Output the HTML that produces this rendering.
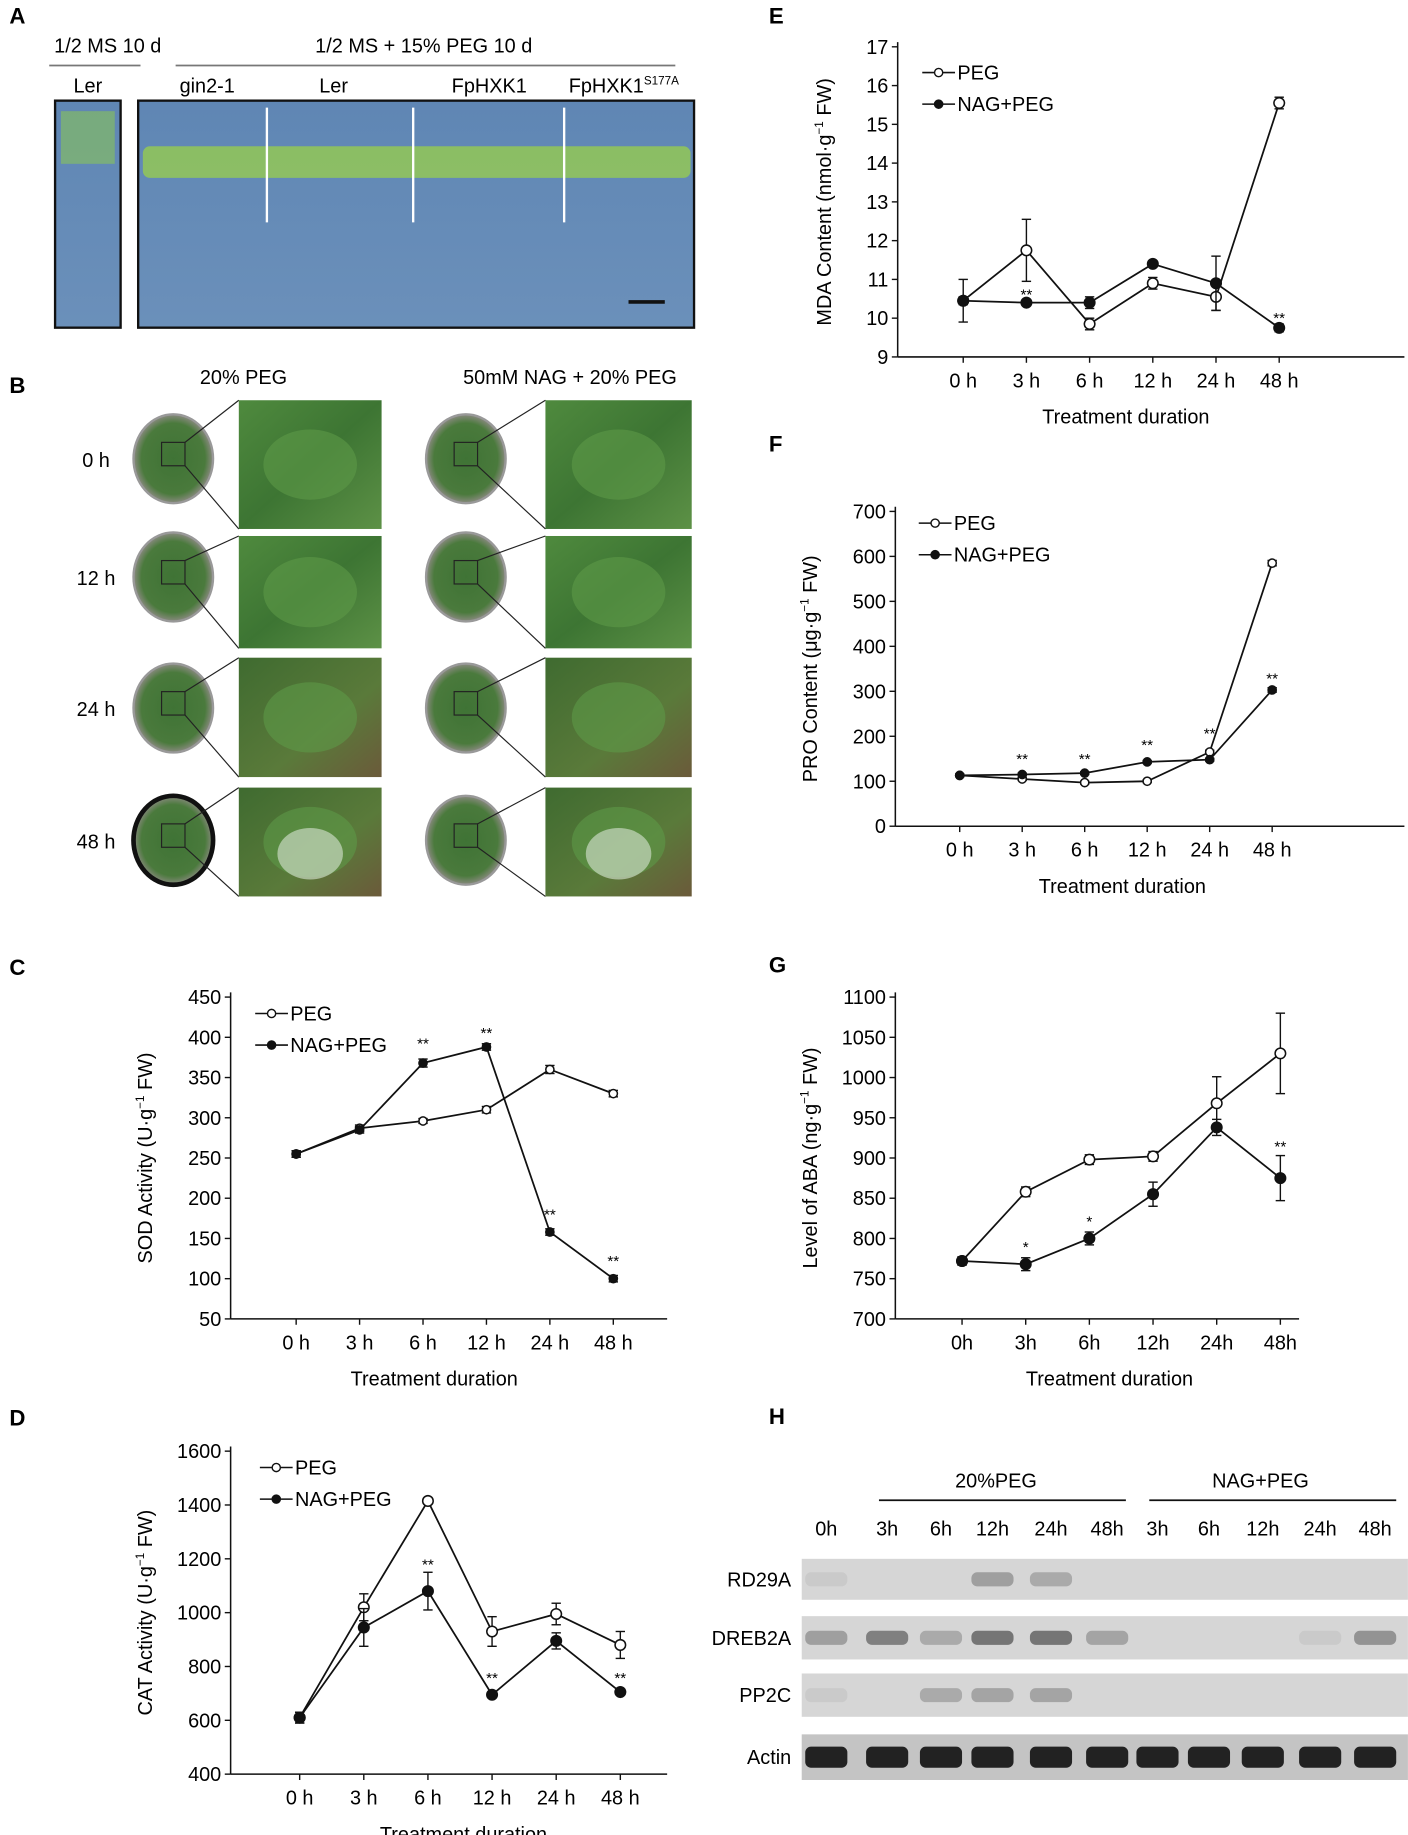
<!DOCTYPE html>
<html><head><meta charset="utf-8"><style>
html,body{margin:0;padding:0;background:#fff;}
svg{display:block;font-family:"Liberation Sans",Arial,sans-serif;}
</style></head><body>
<svg id="fig" xmlns="http://www.w3.org/2000/svg" width="1408" height="1835" viewBox="0 0 1203 1568">
<defs>
<linearGradient id="plate" x1="0" y1="0" x2="0" y2="1"><stop offset="0" stop-color="#5f86b4"/><stop offset="1" stop-color="#6b90ba"/></linearGradient>
<linearGradient id="leaf" x1="0" y1="0" x2="1" y2="1"><stop offset="0" stop-color="#4f8a3e"/><stop offset="0.5" stop-color="#3d7533"/><stop offset="1" stop-color="#5d9146"/></linearGradient>
<linearGradient id="leafd" x1="0" y1="0" x2="1" y2="1"><stop offset="0" stop-color="#3f6b30"/><stop offset="0.6" stop-color="#5a7a3a"/><stop offset="1" stop-color="#6b5a3a"/></linearGradient>
<radialGradient id="dish"><stop offset="0" stop-color="#3f7335"/><stop offset="0.8" stop-color="#4a7a3c"/><stop offset="1" stop-color="#8a8a80"/></radialGradient>
</defs>
<g>
<text x="8" y="20" font-size="19" font-weight="bold">A</text>
<text x="92" y="45" font-size="17" text-anchor="middle">1/2 MS 10 d</text>
<text x="362" y="45" font-size="17" text-anchor="middle">1/2 MS + 15% PEG 10 d</text>
<line x1="42" y1="56" x2="120" y2="56" stroke="#777" stroke-width="1.5"/>
<line x1="150" y1="56" x2="577" y2="56" stroke="#777" stroke-width="1.5"/>
<g font-size="17" text-anchor="middle">
<text x="75" y="79">Ler</text><text x="177" y="79">gin2-1</text><text x="285" y="79">Ler</text><text x="418" y="79">FpHXK1</text><text x="533" y="79">FpHXK1<tspan font-size="10" dy="-7">S177A</tspan></text>
</g>
<rect x="47" y="86" width="56" height="194" fill="url(#plate)" stroke="#111" stroke-width="2"/>
<rect x="118" y="86" width="475" height="194" fill="url(#plate)" stroke="#111" stroke-width="2"/>
<g stroke="#d8e6c8" stroke-width="1" opacity="0.8" id="roots"></g>
<rect x="52" y="95" width="46" height="45" fill="#8cc850" opacity="0.55"/>
<rect x="122" y="125" width="468" height="27" fill="#9ad04a" opacity="0.75" rx="6"/>
<g stroke="#fff" stroke-width="2"><line x1="228" y1="92" x2="228" y2="190"/><line x1="353" y1="92" x2="353" y2="190"/><line x1="482" y1="92" x2="482" y2="190"/></g>
<line x1="537" y1="258" x2="568" y2="258" stroke="#111" stroke-width="3"/>
</g>
<g id="panelB">
<text x="8" y="336" font-size="19" font-weight="bold">B</text>
<text x="208" y="328" font-size="17" text-anchor="middle">20% PEG</text>
<text x="487" y="328" font-size="17" text-anchor="middle">50mM NAG + 20% PEG</text>
</g>
<g id="charts"></g>
<g id="panelH">
<text x="657" y="1217" font-size="19" font-weight="bold">H</text>
<text x="851" y="1271" font-size="17" text-anchor="middle">20%PEG</text>
<text x="1077" y="1271" font-size="17" text-anchor="middle">NAG+PEG</text>
<line x1="751" y1="1282" x2="962" y2="1282" stroke="#111" stroke-width="1.5"/>
<line x1="982" y1="1282" x2="1193" y2="1282" stroke="#111" stroke-width="1.5"/>
</g>
</svg>
<script>
// ---- chart data ----
const categories = ["0 h","3 h","6 h","12 h","24 h","48 h"];
const categoriesG = ["0h","3h","6h","12h","24h","48h"];
const sodPeg = [255,287,296,310,360,330];
const sodNag = [255,285,368,388,158,100];
const sodPegErr = [4,4,3,4,5,4];
const sodNagErr = [4,4,5,4,4,4];
const sodTicks = [50,100,150,200,250,300,350,400,450];
const sodStars = ["","","**","**","**","**"];
const catPeg = [610,1020,1415,930,995,880];
const catNag = [610,945,1080,695,895,705];
const catPegErr = [20,50,8,55,40,50];
const catNagErr = [20,70,70,10,30,8];
const catTicks = [400,600,800,1000,1200,1400,1600];
const catStars = ["","","**","**","","**"];
const mdaPeg = [10.45,11.75,9.85,10.9,10.55,15.55];
const mdaNag = [10.45,10.4,10.4,11.4,10.9,9.75];
const mdaPegErr = [0.55,0.8,0.15,0.15,0.35,0.15];
const mdaNagErr = [0.1,0.05,0.15,0.08,0.7,0.1];
const mdaTicks = [9,10,11,12,13,14,15,16,17];
const mdaStars = ["","**","","","","**"];
const proPeg = [113,105,97,100,165,585];
const proNag = [113,115,118,143,148,303];
const proPegErr = [3,3,3,3,4,6];
const proNagErr = [3,3,3,3,3,5];
const proTicks = [0,100,200,300,400,500,600,700];
const proStars = ["","**","**","**","**","**"];
const abaPeg = [772,858,898,902,968,1030];
const abaNag = [772,768,800,855,938,875];
const abaPegErr = [5,6,6,6,33,50];
const abaNagErr = [5,8,8,15,10,28];
const abaTicks = [700,750,800,850,900,950,1000,1050,1100];
const abaStars = ["","*","*","","","**"];

const NS="http://www.w3.org/2000/svg";
function mk(tag,attrs,parent){const e=document.createElementNS(NS,tag);for(const k in attrs)e.setAttribute(k,attrs[k]);if(parent)parent.appendChild(e);return e;}

function chart(o){
  const g=mk("g",{},document.getElementById("charts"));
  
  
  const t=mk("text",{x:o.lx,y:o.ly,"font-size":19,"font-weight":"bold"},g);t.textContent=o.letter;
  const y=v=>o.y0+(v-o.vmin)/(o.vmax-o.vmin)*(o.y1-o.y0);
  const x=i=>o.xs[0]+i*(o.xs[1]-o.xs[0])/5;
  const ax=mk("g",{},g);
  
  
  mk("line",{x1:o.ax,y1:o.y1-4,x2:o.ax,y2:o.y0,stroke:"#111","stroke-width":1.3},ax);
  mk("line",{x1:o.ax,y1:o.y0,x2:o.axEnd,y2:o.y0,stroke:"#111","stroke-width":1.3},ax);
  o.ticks.forEach(v=>{
    mk("line",{x1:o.ax-5,y1:y(v),x2:o.ax,y2:y(v),stroke:"#111","stroke-width":1.2},ax);
    const tl=mk("text",{x:o.ax-8,y:y(v)+6,"font-size":17,"text-anchor":"end"},ax);
    
    
    tl.textContent=v;
  });
  o.cats.forEach((c,i)=>{
    mk("line",{x1:x(i),y1:o.y0,x2:x(i),y2:o.y0+5,stroke:"#111","stroke-width":1.2},ax);
    const tl=mk("text",{x:x(i),y:o.y0+26,"font-size":17,"text-anchor":"middle"},ax);
    
    
    tl.textContent=c;
  });
  const xt=mk("text",{x:o.xtx,y:o.y0+57,"font-size":17,"text-anchor":"middle"},g);
  
  
  xt.textContent="Treatment duration";
  const yt=mk("text",{x:0,y:0,"font-size":17,"text-anchor":"middle",transform:`translate(${o.ytx},${(o.y0+o.y1)/2}) rotate(-90)`},g);
  
  
  yt.innerHTML=o.ytitle;
  [[o.peg,o.pegErr,"#fff","peg"],[o.nag,o.nagErr,"#111","nag-peg"]].forEach(([vals,errs,fill,nm])=>{
    const sg=mk("g",{},g);
    
    
    mk("polyline",{points:vals.map((v,i)=>x(i)+","+y(v)).join(" "),fill:"none",stroke:"#111","stroke-width":1.5},sg);
    vals.forEach((v,i)=>{
      const hi=y(v+errs[i]),lo=y(v-errs[i]);
      mk("line",{x1:x(i),y1:hi,x2:x(i),y2:lo,stroke:"#111","stroke-width":1.2},sg);
      mk("line",{x1:x(i)-4,y1:hi,x2:x(i)+4,y2:hi,stroke:"#111","stroke-width":1.2},sg);
      mk("line",{x1:x(i)-4,y1:lo,x2:x(i)+4,y2:lo,stroke:"#111","stroke-width":1.2},sg);
      const c=mk("circle",{cx:x(i),cy:y(v),r:o.r,fill:fill,stroke:"#111","stroke-width":1.3},sg);
      
      
    });
  });
  o.stars.forEach((s,i)=>{
    if(!s)return;
    const v=o.nag[i];const top=y(v+o.nagErr[i]);
    const below=o.starBelow&&o.starBelow[i];
    const st=mk("text",{x:x(i),y:below?y(v-o.nagErr[i])-(-0)+ -20+o.starOff:top-6,"font-size":13,"text-anchor":"middle"},g);
    if(o.starY&&o.starY[i])st.setAttribute("y",o.starY[i]);
    
    
    st.textContent=s;
  });
  if(o.legend){
    const lg=mk("g",{},g);
    
    
    [["PEG","#fff"],["NAG+PEG","#111"]].forEach(([lab,f],k)=>{
      const yy=o.legend[1]+k*27;
      mk("line",{x1:o.legend[0],y1:yy,x2:o.legend[0]+28,y2:yy,stroke:"#111","stroke-width":1.3},lg);
      mk("circle",{cx:o.legend[0]+14,cy:yy,r:3.5,fill:f,stroke:"#111","stroke-width":1.2},lg);
      const tt=mk("text",{x:o.legend[0]+30,y:yy+6,"font-size":17},lg);
      
      
      tt.textContent=lab;
    });
  }
}
const sup='<tspan font-size="10" dy="-7">−1</tspan><tspan dy="7"> FW)</tspan>';
chart({name:"sod-chart",letter:"C",lx:8,ly:833,ax:197,axEnd:570,y0:1127,y1:852,vmin:50,vmax:450,xs:[253,524],cats:categories,ticks:sodTicks,peg:sodPeg,nag:sodNag,pegErr:sodPegErr,nagErr:sodNagErr,stars:sodStars,r:3.5,xtx:371,ytx:130,ytitle:'SOD Activity (U·g'+sup,legend:[218,866],starY:[0,0,896,887,1042,1082]});
chart({name:"cat-chart",letter:"D",lx:8,ly:1218,ax:197,axEnd:570,y0:1516,y1:1240,vmin:400,vmax:1600,xs:[256,530],cats:categories,ticks:catTicks,peg:catPeg,nag:catNag,pegErr:catPegErr,nagErr:catNagErr,stars:catStars,r:4.5,xtx:396,ytx:130,ytitle:'CAT Activity (U·g'+sup,legend:[222,1254],starY:[0,0,1341,1438,0,1438]});
chart({name:"mda-chart",letter:"E",lx:657,ly:20,ax:767,axEnd:1200,y0:305,y1:40,vmin:9,vmax:17,xs:[823,1093],cats:categories,ticks:mdaTicks,peg:mdaPeg,nag:mdaNag,pegErr:mdaPegErr,nagErr:mdaNagErr,stars:mdaStars,r:4.5,xtx:962,ytx:710,ytitle:'MDA Content (nmol·g'+sup,legend:[788,62],starY:[0,256,0,0,0,276]});
chart({name:"pro-chart",letter:"F",lx:657,ly:386,ax:765,axEnd:1200,y0:706,y1:437,vmin:0,vmax:700,xs:[820,1087],cats:categories,ticks:proTicks,peg:proPeg,nag:proNag,pegErr:proPegErr,nagErr:proNagErr,stars:proStars,r:3.5,xtx:959,ytx:698,ytitle:'PRO Content (μg·g'+sup,legend:[785,447],starY:[0,653,653,641,631,584]});
chart({name:"aba-chart",letter:"G",lx:657,ly:831,ax:765,axEnd:1110,y0:1127,y1:852,vmin:700,vmax:1100,xs:[822,1094],cats:categoriesG,ticks:abaTicks,peg:abaPeg,nag:abaNag,pegErr:abaPegErr,nagErr:abaNagErr,stars:abaStars,r:4.5,xtx:948,ytx:698,ytitle:'Level of ABA (ng·g'+sup,legend:null,starY:[0,1070,1048,0,0,984]});

// ---- panel B photos ----
const pb=document.getElementById("panelB");
const rowsB=[["0 h",392,342,452],["12 h",493,458,554],["24 h",605,562,664],["48 h",718,673,766]];
rowsB.forEach(([lab,cy,t,b],ri)=>{
  const tx=mk("text",{x:82,y:cy+7,"font-size":17,"text-anchor":"middle"},pb);tx.textContent=lab;
  [[148,204,326],[398,466,591]].forEach(([cx,x0,x1],ci)=>{
    const gr=mk("g",{},pb);
    
    
    mk("ellipse",{cx:cx,cy:cy,rx:34,ry:38,fill:"url(#dish)",stroke:ri==3&&ci==0?"#111":"#999","stroke-width":ri==3&&ci==0?4:2},gr);
    mk("rect",{x:cx-10,y:cy-14,width:20,height:20,fill:"none",stroke:"#222","stroke-width":1},gr);
    mk("line",{x1:cx+10,y1:cy-14,x2:x0,y2:t,stroke:"#222","stroke-width":1},gr);
    mk("line",{x1:cx+10,y1:cy+6,x2:x0,y2:b,stroke:"#222","stroke-width":1},gr);
    mk("rect",{x:x0,y:t,width:x1-x0,height:b-t,fill:ri>=2?"url(#leafd)":"url(#leaf)"},gr);
    mk("ellipse",{cx:(x0+x1)/2,cy:(t+b)/2,rx:40,ry:30,fill:"#5e9a48",opacity:0.6},gr);
    if(ri==3)mk("ellipse",{cx:(x0+x1)/2,cy:(t+b)/2+10,rx:28,ry:22,fill:"#c8d8c0",opacity:0.7},gr);
  });
});

// ---- panel H gel ----
const ph=document.getElementById("panelH");
const lanes=["0h","3h","6h","12h","24h","48h","3h","6h","12h","24h","48h"];
const laneX=[706,758,804,848,898,946,989,1033,1079,1128,1175];
const genes=["RD29A","DREB2A","PP2C","Actin"];
const geneTop=[1332,1381,1430,1482];
const geneH=[35,37,37,39];
// band intensities per gene per lane (0-1)
const rd29a=[0.1,0,0,0.45,0.35,0,0,0,0,0,0];
const dreb2a=[0.45,0.7,0.35,0.8,0.8,0.4,0,0,0,0.1,0.55];
const pp2c=[0.1,0,0.35,0.4,0.4,0,0,0,0,0,0];
const actin=[1,1,1,1,1,1,1,1,1,1,1];
const bands=[rd29a,dreb2a,pp2c,actin];
lanes.forEach((l,i)=>{const t=mk("text",{x:laneX[i],y:1312,"font-size":17,"text-anchor":"middle"},ph);
  
  
  t.textContent=l;});
genes.forEach((gname,k)=>{
  const t=mk("text",{x:676,y:geneTop[k]+geneH[k]/2+6,"font-size":17,"text-anchor":"end"},ph);
  
  
  t.textContent=gname;
  const s=mk("rect",{x:685,y:geneTop[k],width:518,height:geneH[k],fill:k==3?"#c4c4c4":"#d6d6d6"},ph);
  
  
  bands[k].forEach((v,i)=>{
    if(v<=0)return;
    const b=mk("rect",{x:laneX[i]-18,y:geneTop[k]+geneH[k]/2-(k==3?9:6),width:36,height:k==3?18:12,rx:5,fill:k==3?"#111":"#333",opacity:k==3?0.9:v*0.75},ph);
    
    
  });
});
</script>
</body></html>
